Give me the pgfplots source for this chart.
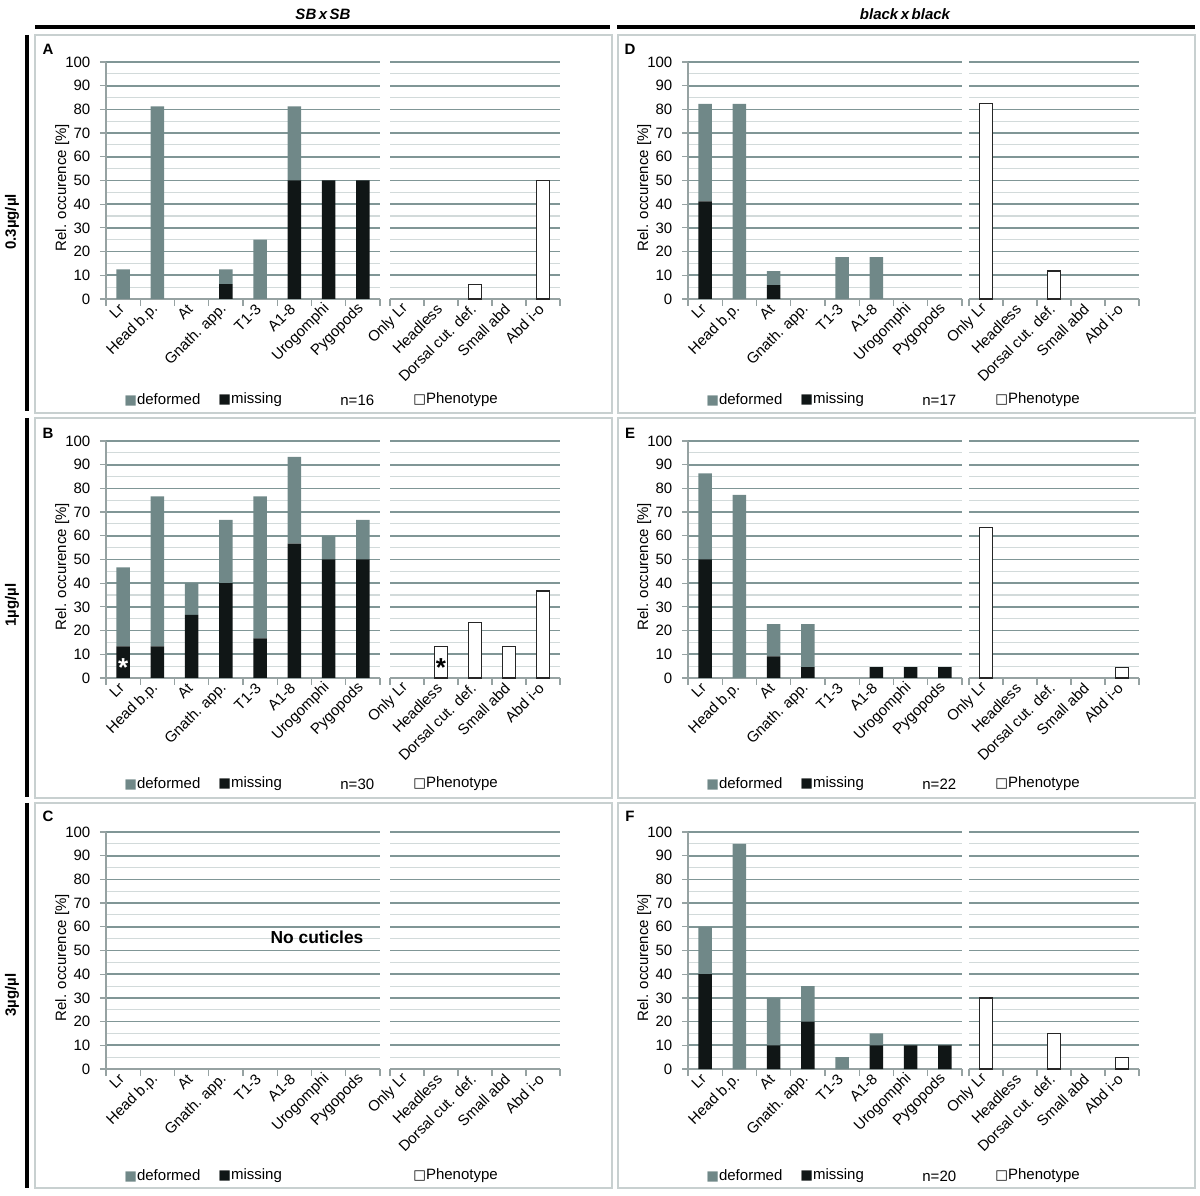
\documentclass[border=0pt]{standalone}
\usepackage{pgfplots}
\pgfplotsset{compat=1.18}
\usepackage{fontspec}
\setmainfont{Liberation Sans}
\newfontfamily\dejavu{DejaVu Sans}
\definecolor{defc}{RGB}{112,136,136}
\definecolor{misc}{RGB}{16,22,22}
\definecolor{gmaj}{RGB}{128,150,150}
\definecolor{gmin}{RGB}{210,218,218}
\definecolor{axc}{RGB}{150,162,162}
\definecolor{boxc}{RGB}{200,208,208}
\newcommand{\lf}{\fontsize{7.5}{8.7}\selectfont}
\newcommand{\sq}[1]{{\dejavu\fontsize{6.7}{6.7}\selectfont\textcolor{#1}{■}}}
\newcommand{\osq}{{\dejavu\fontsize{6.7}{6.7}\selectfont\textcolor{black}{□}}}
\pgfplotsset{
  base/.style={
    scale only axis, height=118.5pt, ymin=0, ymax=100,
    ytick={0,10,...,100}, minor ytick={5,15,...,95},
    ymajorgrids, yminorgrids,
    major grid style={draw=gmaj, line width=0.85pt},
    minor grid style={draw=gmin, line width=0.55pt},
    minor y tick style={draw=none},
    major x tick style={draw=none},
    minor x tick style={draw=axc, line width=0.6pt},
    tick align=outside, major tick length=3pt, minor tick length=3.5pt,
    axis x line*=bottom, axis y line*=left,
    x axis line style={draw=axc, line width=0.6pt},
    xticklabel style={font=\lf, rotate=45, anchor=east, inner sep=1pt},
    yticklabel style={font=\lf, xshift=-1.3pt},
    /pgf/number format/assume math mode=true,
    clip=false, bar width=6.75pt,
  },
  leftax/.style={base, width=137pt, xmin=-0.5, xmax=7.5,
    xtick={0,...,7},
    xticklabels={Lr,Head b.p.,At,Gnath. app.,T1-3,A1-8,Urogomphi,Pygopods},
    minor xtick={-0.5,0.5,...,7.5},
    y axis line style={draw=axc, line width=0.6pt},
    major y tick style={draw=axc, line width=0.6pt},
    ylabel={Rel. occurence [\%]},
    every axis y label/.style={at={(axis description cs:-0.16,0.47)}, rotate=90, anchor=center, font=\lf},
    ybar stacked},
  rightax/.style={base, width=85pt, xmin=-0.5, xmax=4.5,
    xtick={0,...,4},
    xticklabels={Only Lr,Headless,Dorsal cut. def.,Small abd,Abd i-o},
    minor xtick={-0.5,0.5,...,4.5},
    y axis line style={draw=none},
    major y tick style={draw=none},
    yticklabels={},
    ybar},
  mis/.style={fill=misc, draw=none},
  dfm/.style={fill=defc, draw=none},
  phe/.style={fill=white, draw=black!85, line width=0.65pt},
}
\newcommand{\legendrow}[3]{%
  \node[anchor=west,inner sep=0,font=\lf] at ({(#1+62)*1pt},{#2*1pt}) {\sq{defc}deformed};
  \node[anchor=west,inner sep=0,font=\lf] at ({(#1+109)*1pt},{#2*1pt}) {\sq{misc}missing};
  \node[anchor=west,inner sep=0,font=\lf] at ({(#1+170)*1pt},{#2*1pt}) {#3};
  \node[anchor=west,inner sep=0,font=\lf] at ({(#1+206.5)*1pt},{#2*1pt}) {\osq Phenotype};
}
\begin{document}
\begin{tikzpicture}
\path[use as bounding box] (0,0) rectangle (600pt,597.5pt);
% headers
\node[font=\lf\bfseries\itshape] at (161.5pt,590.5pt) {SB\,x\,SB};
\node[font=\lf\bfseries\itshape] at (452.5pt,590.5pt) {black\,x\,black};
\draw[line width=2pt] (17.5pt,584pt) -- (305pt,584pt);
\draw[line width=2pt] (308.5pt,584pt) -- (597.5pt,584pt);
% row bars and labels
\draw[line width=2.2pt] (13.5pt,580pt) -- (13.5pt,392pt);
\draw[line width=2.2pt] (13.5pt,388.5pt) -- (13.5pt,199pt);
\draw[line width=2.2pt] (13.5pt,196pt) -- (13.5pt,3.5pt);
\node[rotate=90,font=\lf\bfseries] at (6pt,486.5pt) {0.3µg/µl};
\node[rotate=90,font=\lf\bfseries] at (6pt,295pt) {1µg/µl};
\node[rotate=90,font=\lf\bfseries] at (6pt,100pt) {3µg/µl};
% panel boxes
\draw[boxc, line width=0.6pt] (17.5pt,391pt) rectangle (306pt,580pt);
\draw[boxc, line width=0.6pt] (17.5pt,198.5pt) rectangle (306pt,388.5pt);
\draw[boxc, line width=0.6pt] (17.5pt,3.5pt) rectangle (306pt,196pt);
\draw[boxc, line width=0.6pt] (309pt,391pt) rectangle (597.5pt,580pt);
\draw[boxc, line width=0.6pt] (309pt,198.5pt) rectangle (597.5pt,388.5pt);
\draw[boxc, line width=0.6pt] (309pt,3.5pt) rectangle (597.5pt,196pt);
% panel letters
\node[font=\lf\bfseries] at (24pt,573pt) {A};
\node[font=\lf\bfseries] at (24pt,381pt) {B};
\node[font=\lf\bfseries] at (24pt,189.5pt) {C};
\node[font=\lf\bfseries] at (315pt,573pt) {D};
\node[font=\lf\bfseries] at (315pt,381pt) {E};
\node[font=\lf\bfseries] at (315pt,189.5pt) {F};

% ---------- A ----------
\begin{axis}[leftax, at={(53pt,448pt)}, anchor=south west]
\addplot[mis] coordinates {(0,0) (1,0) (2,0) (3,6.25) (4,0) (5,50) (6,50) (7,50)};
\addplot[dfm] coordinates {(0,12.5) (1,81.25) (2,0) (3,6.25) (4,25) (5,31.25) (6,0) (7,0)};
\end{axis}
\begin{axis}[rightax, at={(195pt,448pt)}, anchor=south west]
\addplot[phe] coordinates {(2,6.25) (4,50)};
\end{axis}
\legendrow{0}{397.5}{n=16}

% ---------- B ----------
\begin{axis}[leftax, at={(53pt,258.5pt)}, anchor=south west]
\addplot[mis] coordinates {(0,13.33) (1,13.33) (2,26.67) (3,40) (4,16.67) (5,56.67) (6,50) (7,50)};
\addplot[dfm] coordinates {(0,33.33) (1,63.33) (2,13.33) (3,26.67) (4,60) (5,36.67) (6,10) (7,16.67)};
\coordinate (astA) at (axis cs:0,4.5);
\end{axis}
\node[text=white, font=\bfseries\fontsize{13}{13}\selectfont] at (astA) {*};
\begin{axis}[rightax, at={(195pt,258.5pt)}, anchor=south west]
\addplot[phe] coordinates {(1,13.33) (2,23.33) (3,13.33) (4,36.67)};
\coordinate (astB) at (axis cs:1,4.5);
\end{axis}
\node[text=black, font=\bfseries\fontsize{13}{13}\selectfont] at (astB) {*};
\legendrow{0}{205.5}{n=30}

% ---------- C ----------
\begin{axis}[leftax, at={(53pt,63pt)}, anchor=south west]
\node[font=\bfseries\fontsize{8.7}{10}\selectfont] at (axis cs:5.66,55.6) {No cuticles};
\end{axis}
\begin{axis}[rightax, at={(195pt,63pt)}, anchor=south west]
\end{axis}
\legendrow{0}{9.5}{}

% ---------- D ----------
\begin{axis}[leftax, at={(344pt,448pt)}, anchor=south west]
\addplot[mis] coordinates {(0,41.18) (1,0) (2,5.88) (3,0) (4,0) (5,0) (6,0) (7,0)};
\addplot[dfm] coordinates {(0,41.18) (1,82.35) (2,5.88) (3,0) (4,17.65) (5,17.65) (6,0) (7,0)};
\end{axis}
\begin{axis}[rightax, at={(484.5pt,448pt)}, anchor=south west]
\addplot[phe] coordinates {(0,82.35) (2,11.76)};
\end{axis}
\legendrow{291}{397.5}{n=17}

% ---------- E ----------
\begin{axis}[leftax, at={(344pt,258.5pt)}, anchor=south west]
\addplot[mis] coordinates {(0,50) (1,0) (2,9.09) (3,4.55) (4,0) (5,4.55) (6,4.55) (7,4.55)};
\addplot[dfm] coordinates {(0,36.36) (1,77.27) (2,13.64) (3,18.18) (4,0) (5,0) (6,0) (7,0)};
\end{axis}
\begin{axis}[rightax, at={(484.5pt,258.5pt)}, anchor=south west]
\addplot[phe] coordinates {(0,63.64) (4,4.55)};
\end{axis}
\legendrow{291}{205.5}{n=22}

% ---------- F ----------
\begin{axis}[leftax, at={(344pt,63pt)}, anchor=south west]
\addplot[mis] coordinates {(0,40) (1,0) (2,10) (3,20) (4,0) (5,10) (6,10) (7,10)};
\addplot[dfm] coordinates {(0,20) (1,95) (2,20) (3,15) (4,5) (5,5) (6,0) (7,0)};
\end{axis}
\begin{axis}[rightax, at={(484.5pt,63pt)}, anchor=south west]
\addplot[phe] coordinates {(0,30) (2,15) (4,5)};
\end{axis}
\legendrow{291}{9.5}{n=20}
\end{tikzpicture}
\end{document}
